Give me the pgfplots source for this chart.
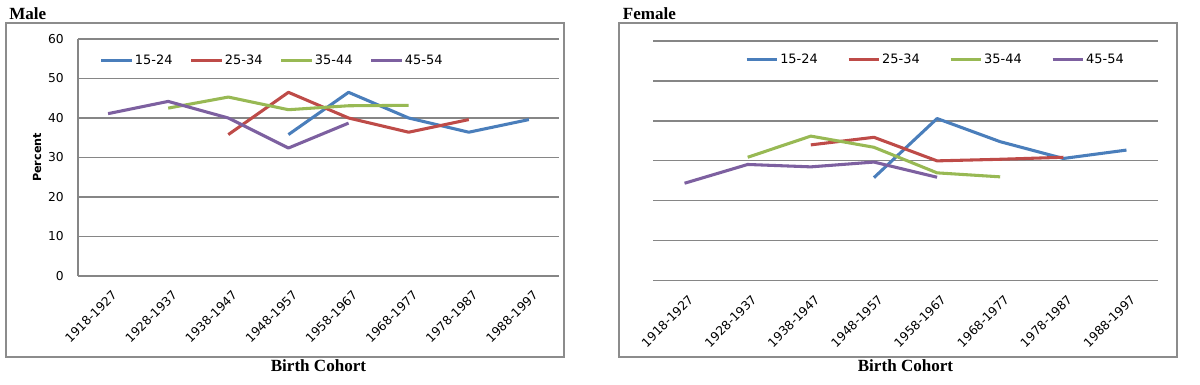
\documentclass[border=0pt]{standalone}
\usepackage{pgfplots}
\pgfplotsset{compat=1.18}
\usepackage{fontspec}
\setmainfont{Liberation Serif}
\newfontfamily\dv{DejaVu Sans}
\definecolor{sBlue}{HTML}{4A7EBB}
\definecolor{sRed}{HTML}{BE4B48}
\definecolor{sGreen}{HTML}{98B954}
\definecolor{sPurple}{HTML}{7D60A0}
\definecolor{gridc}{HTML}{868686}
\definecolor{boxc}{HTML}{8C8C8C}
\pgfplotsset{
 common/.style={
  scale only axis, xmin=-0.5, xmax=7.5, ymin=0, ymax=60,
  xtick={0,...,7},
  xticklabels={1918-1927,1928-1937,1938-1947,1948-1957,1958-1967,1968-1977,1978-1987,1988-1997},
  ytick={0,10,...,60},
  major tick length=0pt,
  axis line style={draw=none},
  ymajorgrids, major grid style={draw=gridc, line width=0.9pt},
  tick label style={font=\dv\fontsize{9.2}{10}\selectfont},
  xticklabel style={xshift=5pt,yshift=-12.5pt,rotate=45,anchor=east,inner sep=0pt},
  yticklabel style={anchor=east,inner sep=0pt,xshift=-10.5pt},
  /pgf/number format/assume math mode=true,
  xlabel={Birth Cohort},
  xlabel style={font=\bfseries\fontsize{12.8}{14}\selectfont, anchor=center},
  legend columns=4,
  legend image code/.code={\draw[##1] (0pt,0pt) -- (23pt,0pt);},
  legend style={draw=none, fill=none, inner sep=0pt, anchor=west,
    font=\dv\fontsize{9.7}{11}\selectfont,
    nodes={inner sep=1pt}},
  every axis plot/.append style={line width=2.3pt, line join=round, mark=none},
  clip=false,
 }
}
\begin{document}
\begin{tikzpicture}
\useasboundingbox (0,0) rectangle (900pt,288.75pt);
% Male
\begin{axis}[common,
  at={(58.5pt,81.75pt)}, anchor=south west,
  width=360.75pt, height=177.75pt,
  xlabel style={at={(rel axis cs:0.5,-0.38)}},
  ylabel={Percent},
  ylabel style={at={(rel axis cs:-0.0852,0.5)}, anchor=center, font=\dv\bfseries\fontsize{8.4}{10}\selectfont},
  legend style={at={(rel axis cs:0.045,0.908)},
    /tikz/every even column/.append style={column sep=12pt}},
]
\draw[gridc, line width=0.9pt] (rel axis cs:0,0) -- (rel axis cs:0,1);
\addplot[sBlue] coordinates {(3,35.8) (4,46.5) (5,40.0) (6,36.4) (7,39.6)};
\addplot[sRed] coordinates {(2,35.8) (3,46.5) (4,40.0) (5,36.4) (6,39.6)};
\addplot[sGreen] coordinates {(1,42.5) (2,45.3) (3,42.1) (4,43.1) (5,43.2)};
\addplot[sPurple] coordinates {(0,41.1) (1,44.2) (2,40.0) (3,32.4) (4,38.7)};
\legend{15-24,25-34,35-44,45-54}
\end{axis}
% Female
\begin{axis}[common,
  at={(489.75pt,78.2pt)}, anchor=south west,
  width=378.75pt, height=179.8pt,
  yticklabels={},
  xlabel style={at={(rel axis cs:0.5,-0.355)}},
  legend style={at={(rel axis cs:0.182,0.9225)},
    /tikz/every even column/.append style={column sep=21pt}},
]
\addplot[sBlue] coordinates {(3,25.8) (4,40.6) (5,34.8) (6,30.6) (7,32.7)};
\addplot[sRed] coordinates {(2,34.0) (3,35.9) (4,30.0) (5,30.4) (6,30.9)};
\addplot[sGreen] coordinates {(1,30.9) (2,36.2) (3,33.4) (4,27.0) (5,26.0)};
\addplot[sPurple] coordinates {(0,24.4) (1,29.1) (2,28.5) (3,29.7) (4,25.9)};
\legend{15-24,25-34,35-44,45-54}
\end{axis}
\draw[boxc, line width=1pt] (4.5pt,21pt) rectangle (423pt,271.5pt);
\draw[boxc, line width=1pt] (464.25pt,21pt) rectangle (882.75pt,271.5pt);
\node[anchor=west, font=\bfseries\fontsize{12.8}{14}\selectfont, inner sep=0pt] at (6.75pt,278.8pt) {Male};
\node[anchor=west, font=\bfseries\fontsize{12.8}{14}\selectfont, inner sep=0pt] at (467pt,278.8pt) {Female};
\end{tikzpicture}
\end{document}
